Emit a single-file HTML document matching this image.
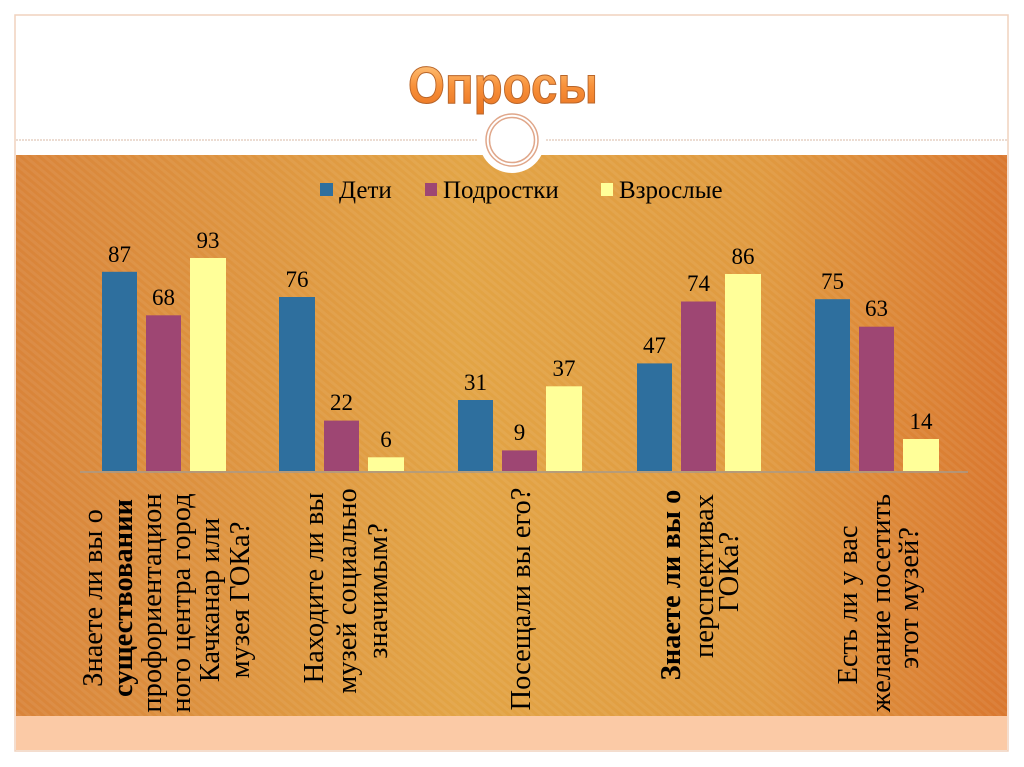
<!DOCTYPE html>
<html><head><meta charset="utf-8"><style>
html,body{margin:0;padding:0;background:#fff;}
body{width:1024px;height:767px;overflow:hidden;position:relative;}
</style></head><body>
<svg width="1024" height="767" xmlns="http://www.w3.org/2000/svg" style="position:absolute;left:0;top:0">
<defs>
<linearGradient id="bg" x1="0" y1="0" x2="1" y2="0">
<stop offset="0" stop-color="#d9843a"/>
<stop offset="0.45" stop-color="#e2a445"/>
<stop offset="0.75" stop-color="#e09a40"/>
<stop offset="1" stop-color="#d9772f"/>
</linearGradient>
<pattern id="st" width="6" height="6" patternUnits="userSpaceOnUse" patternTransform="rotate(40)">
<rect width="6" height="3" fill="#ffffff" opacity="0.06"/>
</pattern>
<linearGradient id="tg" x1="0" y1="0" x2="0" y2="1">
<stop offset="0" stop-color="#ffd08a"/>
<stop offset="0.5" stop-color="#f8913a"/>
<stop offset="1" stop-color="#e8701e"/>
</linearGradient>
</defs>
<rect x="15" y="15" width="993" height="736" fill="#fff" stroke="#f0d2bd" stroke-width="1.5"/>
<rect x="16" y="155" width="991" height="561" fill="url(#bg)"/>
<rect x="16" y="155" width="991" height="561" fill="url(#st)"/>
<rect x="16" y="716" width="991" height="34" fill="#fbcaa6"/>
<line x1="16" y1="140" x2="478" y2="140" stroke="#d8b8a4" stroke-width="1" stroke-dasharray="2,1"/>
<line x1="546" y1="140" x2="1007" y2="140" stroke="#d8b8a4" stroke-width="1" stroke-dasharray="2,1"/>
<circle cx="512" cy="140" r="33" fill="#fff"/>
<circle cx="512" cy="140" r="26" fill="none" stroke="#e0a78a" stroke-width="1.5"/>
<circle cx="512" cy="140" r="22.5" fill="none" stroke="#e0a78a" stroke-width="1.5"/>
<text x="408" y="103" textLength="190" lengthAdjust="spacingAndGlyphs" font-family="Liberation Sans, sans-serif" font-weight="bold" font-size="52" fill="url(#tg)" stroke="#b8652a" stroke-width="1">Опросы</text>
<g font-family="Liberation Serif, serif" font-size="25" fill="#000">
<rect x="320" y="183" width="13" height="13" fill="#2e6f9e"/><text x="339" y="198">Дети</text>
<rect x="425" y="183" width="12" height="13" fill="#9e4673"/><text x="443" y="198">Подростки</text>
<rect x="601" y="183" width="12" height="13" fill="#ffff99"/><text x="619" y="198">Взрослые</text>
</g>
<line x1="80" y1="472" x2="968" y2="472" stroke="#a89a8a" stroke-width="1.5"/>
<g>
<rect x="102" y="271.8" width="35" height="199.2" fill="#2e6f9e"/>
<rect x="146" y="315.3" width="35" height="155.7" fill="#9e4673"/>
<rect x="190" y="258" width="36" height="213" fill="#ffff99"/>
<rect x="279" y="297" width="36" height="174" fill="#2e6f9e"/>
<rect x="324" y="420.6" width="35" height="50.4" fill="#9e4673"/>
<rect x="368" y="457.3" width="36" height="13.7" fill="#ffff99"/>
<rect x="458" y="400" width="35" height="71" fill="#2e6f9e"/>
<rect x="502" y="450.4" width="35" height="20.6" fill="#9e4673"/>
<rect x="546" y="386.3" width="36" height="84.7" fill="#ffff99"/>
<rect x="637" y="363.4" width="35" height="107.6" fill="#2e6f9e"/>
<rect x="681" y="301.5" width="35" height="169.5" fill="#9e4673"/>
<rect x="725" y="274" width="36" height="197" fill="#ffff99"/>
<rect x="815" y="299.2" width="35" height="171.8" fill="#2e6f9e"/>
<rect x="859" y="326.7" width="35" height="144.3" fill="#9e4673"/>
<rect x="903" y="439" width="36" height="32" fill="#ffff99"/>
</g>
<g font-family="Liberation Serif, serif" font-size="23" fill="#000" text-anchor="middle">
<text x="119.5" y="262">87</text><text x="163.5" y="305">68</text><text x="208" y="248">93</text>
<text x="297" y="287">76</text><text x="341.5" y="410">22</text><text x="386" y="447">6</text>
<text x="475.5" y="390">31</text><text x="519.5" y="440">9</text><text x="564" y="376">37</text>
<text x="654.5" y="353">47</text><text x="698.5" y="291">74</text><text x="743" y="264">86</text>
<text x="832.5" y="289">75</text><text x="876.5" y="316">63</text><text x="921" y="429">14</text>
</g>
<g font-family="Liberation Serif, serif" font-size="28.5" fill="#000" text-anchor="middle">
<text transform="translate(102,598) rotate(-90)">Знаете ли вы о</text>
<text transform="translate(132,598) rotate(-90)" font-weight="bold">существовании</text>
<text transform="translate(161,603) rotate(-90)">профориентацион</text>
<text transform="translate(190,603) rotate(-90)">ного центра город</text>
<text transform="translate(219,600) rotate(-90)">Качканар или</text>
<text transform="translate(249,600) rotate(-90)">музея ГОКа?</text>
<text transform="translate(323,588) rotate(-90)">Находите ли вы</text>
<text transform="translate(356,591) rotate(-90)">музей социально</text>
<text transform="translate(387,591) rotate(-90)">значимым?</text>
<text transform="translate(530,599) rotate(-90)">Посещали вы его?</text>
<text transform="translate(680,585) rotate(-90)" font-weight="bold">Знаете ли вы о</text>
<text transform="translate(713,576) rotate(-90)">перспективах</text>
<text transform="translate(738,572) rotate(-90)">ГОКа?</text>
<text transform="translate(857,605) rotate(-90)">Есть ли у вас</text>
<text transform="translate(890,603) rotate(-90)">желание посетить</text>
<text transform="translate(918,598) rotate(-90)">этот музей?</text>
</g>
</svg>
</body></html>
